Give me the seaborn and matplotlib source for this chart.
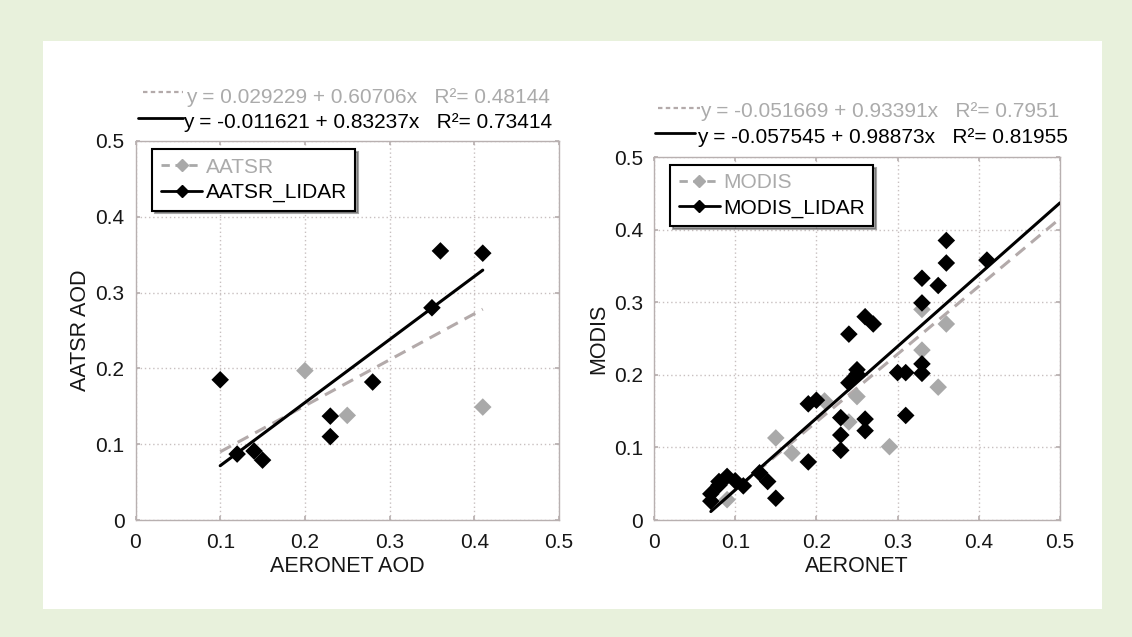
import numpy as np
import pandas as pd
import matplotlib
matplotlib.use("Agg")
import matplotlib.pyplot as plt
from matplotlib.lines import Line2D
import seaborn as sns

# ---------------- data ----------------
# Left panel: AATSR vs AERONET
aatsr_x = [0.20, 0.25, 0.41]
aatsr_y = [0.197, 0.138, 0.149]
aatsr_lidar_x = [0.10, 0.12, 0.14, 0.15, 0.23, 0.23, 0.28, 0.35, 0.36, 0.41]
aatsr_lidar_y = [0.185, 0.087, 0.091, 0.079, 0.137, 0.110, 0.182, 0.280, 0.355, 0.352]
aatsr_fit = [0.029229, 0.60706]          # intercept, slope
aatsr_lidar_fit = [-0.011621, 0.83237]
aatsr_r2 = "0.48144"
aatsr_lidar_r2 = "0.73414"
left_fit_range = [0.10, 0.41]

# Right panel: MODIS vs AERONET
modis_x = [0.09, 0.15, 0.17, 0.21, 0.24, 0.25, 0.29, 0.33, 0.33, 0.35, 0.36]
modis_y = [0.028, 0.113, 0.092, 0.164, 0.135, 0.170, 0.101, 0.234, 0.290, 0.183, 0.270]
modis_lidar_x = [0.07, 0.07, 0.08, 0.08, 0.09, 0.10, 0.11, 0.13, 0.14, 0.15,
                 0.19, 0.19, 0.20, 0.23, 0.23, 0.23, 0.24, 0.24, 0.25, 0.25,
                 0.26, 0.26, 0.26, 0.27, 0.30, 0.31, 0.31, 0.33, 0.33, 0.33,
                 0.33, 0.35, 0.36, 0.36, 0.41]
modis_lidar_y = [0.036, 0.026, 0.053, 0.048, 0.060, 0.054, 0.047, 0.065, 0.053, 0.030,
                 0.080, 0.160, 0.165, 0.141, 0.117, 0.096, 0.189, 0.256, 0.207, 0.201,
                 0.139, 0.123, 0.280, 0.270, 0.203, 0.203, 0.144, 0.215, 0.202, 0.299,
                 0.333, 0.323, 0.385, 0.354, 0.358]
modis_fit = [-0.051669, 0.93391]
modis_lidar_fit = [-0.057545, 0.98873]
modis_r2 = "0.7951"
modis_lidar_r2 = "0.81955"
right_fit_range = [0.07, 0.50]

ticks = [0, 0.1, 0.2, 0.3, 0.4, 0.5]
tick_labels = ["0", "0.1", "0.2", "0.3", "0.4", "0.5"]

# ---------------- style ----------------
sns.set_theme(style="white")
plt.rcParams['font.family'] = ['Liberation Sans', 'DejaVu Sans']

GRAY_PT = "#a9a9a9"
GRAY_LN = "#b3aaaa"
GRAY_TX = "#ababab"
FRAME = "#b8b0b0"
BG = "#e8f1dc"
TXT = "#161616"

fig = plt.figure(figsize=(11.32, 6.37), dpi=100, facecolor=BG)
# white inner panel
panel_rect = plt.Rectangle((43 / 1132, 1 - 609 / 637), (1102 - 43) / 1132, (609 - 41) / 637,
                           transform=fig.transFigure, facecolor="white", edgecolor="none",
                           zorder=-10)
fig.patches.append(panel_rect)

ax1 = fig.add_axes([135.5 / 1132, 117 / 637, 423.5 / 1132, 379 / 637])
ax2 = fig.add_axes([654 / 1132, 117 / 637, 406 / 1132, 363 / 637])


def fit_frame(coef, xr):
    xs = np.array(xr)
    return pd.DataFrame({"x": xs, "y": coef[0] + coef[1] * xs})


def panel(ax, gx, gy, bx, by, gfit, bfit, xr, gname, bname, gr2, br2, xlabel, ylabel,
          eq_pos):
    ax.set_facecolor("white")
    ax.grid(True, color="#c8c0c0", linestyle=(0, (1, 2)), linewidth=1.0)
    ax.set_axisbelow(True)
    sns.lineplot(data=fit_frame(gfit, xr), x="x", y="y", ax=ax, color=GRAY_LN,
                 linestyle=(0, (4, 2.5)), linewidth=2.2, zorder=2)
    sns.scatterplot(x=gx, y=gy, ax=ax, color=GRAY_PT, marker="D", s=80,
                    edgecolor="none", zorder=3)
    sns.scatterplot(x=bx, y=by, ax=ax, color="black", marker="D", s=80,
                    edgecolor="none", zorder=4)
    sns.lineplot(data=fit_frame(bfit, xr), x="x", y="y", ax=ax, color="black",
                 linewidth=2.2, zorder=5)
    ax.set_xlim(0, 0.5)
    ax.set_ylim(0, 0.5)
    ax.set_xticks(ticks)
    ax.set_yticks(ticks)
    ax.set_xticklabels(tick_labels)
    ax.set_yticklabels(tick_labels)
    ax.tick_params(direction="in", length=3, color=FRAME, labelsize=15, labelcolor=TXT,
                   top=True, right=True, bottom=True, left=True)
    ax.tick_params(axis="x", pad=9)
    ax.tick_params(axis="y", pad=8)
    for sp in ax.spines.values():
        sp.set_color(FRAME)
        sp.set_linewidth(1.0)
    ax.set_xlabel(xlabel, fontsize=15.5, color=TXT, labelpad=3)
    ax.set_ylabel(ylabel, fontsize=15.5, color=TXT, labelpad=3)

    handles = [
        Line2D([0], [0], color=GRAY_PT, linestyle=(0, (3, 2)), linewidth=2, marker="D",
               markersize=6, markerfacecolor=GRAY_PT, markeredgecolor=GRAY_PT),
        Line2D([0], [0], color="black", linestyle="-", linewidth=2, marker="D",
               markersize=6, markerfacecolor="black", markeredgecolor="black"),
    ]
    leg = ax.legend(handles, [gname, bname], loc="upper left", bbox_to_anchor=(0.04, 0.978),
                    fontsize=15, frameon=True, fancybox=False, shadow=True, framealpha=1,
                    edgecolor="black", handlelength=2.0, handletextpad=0.15,
                    borderpad=0.4, labelspacing=0.3, borderaxespad=0)
    leg.get_frame().set_linewidth(1.5)
    leg.get_texts()[0].set_color(GRAY_TX)
    leg.get_texts()[1].set_color("black")

    (gy_t, gl0, gl1, gtx), (by_t, bl0, bl1, btx) = eq_pos
    ax.add_line(Line2D([gl0, gl1], [gy_t + 0.012, gy_t + 0.012], transform=ax.transAxes,
                       color=GRAY_LN, linestyle=(0, (2, 1.5)), linewidth=1.6, clip_on=False))
    ax.text(gtx, gy_t, f"y = {gfit[0]:g} + {gfit[1]:g}x   R²= {gr2}", transform=ax.transAxes,
            fontsize=15, color=GRAY_TX, va="center", ha="left")
    ax.add_line(Line2D([bl0, bl1], [by_t + 0.012, by_t + 0.012], transform=ax.transAxes,
                       color="black", linewidth=2, clip_on=False))
    ax.text(btx, by_t, f"y = {bfit[0]:g} + {bfit[1]:g}x   R²= {br2}", transform=ax.transAxes,
            fontsize=15, color="black", va="center", ha="left")


panel(ax1, aatsr_x, aatsr_y, aatsr_lidar_x, aatsr_lidar_y, aatsr_fit, aatsr_lidar_fit,
      left_fit_range, "AATSR", "AATSR_LIDAR", aatsr_r2, aatsr_lidar_r2,
      "AERONET AOD", "AATSR AOD",
      ((1.116, 0.018, 0.112, 0.119), (1.050, 0.006, 0.112, 0.112)))
panel(ax2, modis_x, modis_y, modis_lidar_x, modis_lidar_y, modis_fit, modis_lidar_fit,
      right_fit_range, "MODIS", "MODIS_LIDAR", modis_r2, modis_lidar_r2,
      "AERONET", "MODIS",
      ((1.124, 0.010, 0.113, 0.113), (1.055, 0.002, 0.100, 0.106)))

fig.savefig("out.png", dpi=100, facecolor=BG)
